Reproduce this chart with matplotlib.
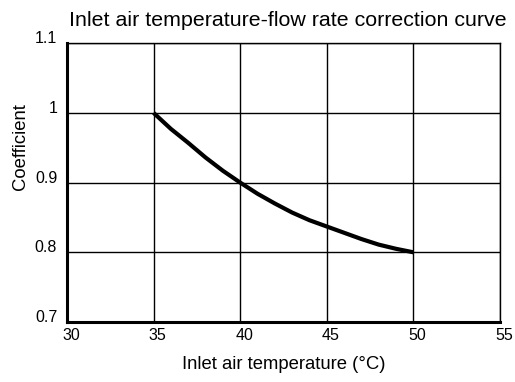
import matplotlib
matplotlib.use("Agg")
import matplotlib.pyplot as plt
import matplotlib.transforms as mtransforms

temps = [35, 36, 37, 38, 39, 40, 41, 42, 43, 44, 45, 46, 47, 48, 49, 50]
coeffs = [1.0, 0.977, 0.957, 0.936, 0.917, 0.9, 0.884, 0.870, 0.857, 0.846, 0.837, 0.828, 0.819, 0.811, 0.805, 0.80]
x_ticks = [30, 35, 40, 45, 50, 55]
y_ticks = [0.7, 0.8, 0.9, 1.0, 1.1]
y_tick_labels = ["0.7", "0.8", "0.9", "1", "1.1"]

plt.rcParams['font.family'] = ['Liberation Sans', 'DejaVu Sans']

fig = plt.figure(figsize=(5.15, 3.82), dpi=100)
ax = fig.add_axes([0.130, 0.157, 0.841, 0.730])

ax.plot(temps, coeffs, color='black', linewidth=3, solid_capstyle='butt',
        solid_joinstyle='round', zorder=3)

ax.set_xlim(30, 55)
ax.set_ylim(0.7, 1.1)
ax.set_xticks(x_ticks)
ax.set_yticks(y_ticks)
ax.set_yticklabels(y_tick_labels)
ax.grid(True, color='black', linewidth=1.0)
ax.tick_params(length=0, labelsize=11.5, colors='black')
ax.tick_params(axis='y', pad=7)
ax.tick_params(axis='x', pad=4)

for side in ['left', 'bottom']:
    ax.spines[side].set_linewidth(2.2)
for side in ['top', 'right']:
    ax.spines[side].set_linewidth(1.0)

off_y = mtransforms.ScaledTranslation(0, 6/100, fig.dpi_scale_trans)
for lab in ax.get_yticklabels():
    lab.set_transform(lab.get_transform() + off_y)
off_x = mtransforms.ScaledTranslation(4/100, 0, fig.dpi_scale_trans)
for lab in ax.get_xticklabels():
    lab.set_transform(lab.get_transform() + off_x)

ax.set_title("Inlet air temperature-flow rate correction curve", fontsize=15.4, pad=12, x=0.51)
ax.set_xlabel("Inlet air temperature (°C)", fontsize=13.3, labelpad=10)
ax.set_ylabel("Coefficient", fontsize=13.3, ha='center', va='center')
ax.yaxis.set_label_coords(-0.108, 0.63)

fig.savefig("out.png", dpi=100)
